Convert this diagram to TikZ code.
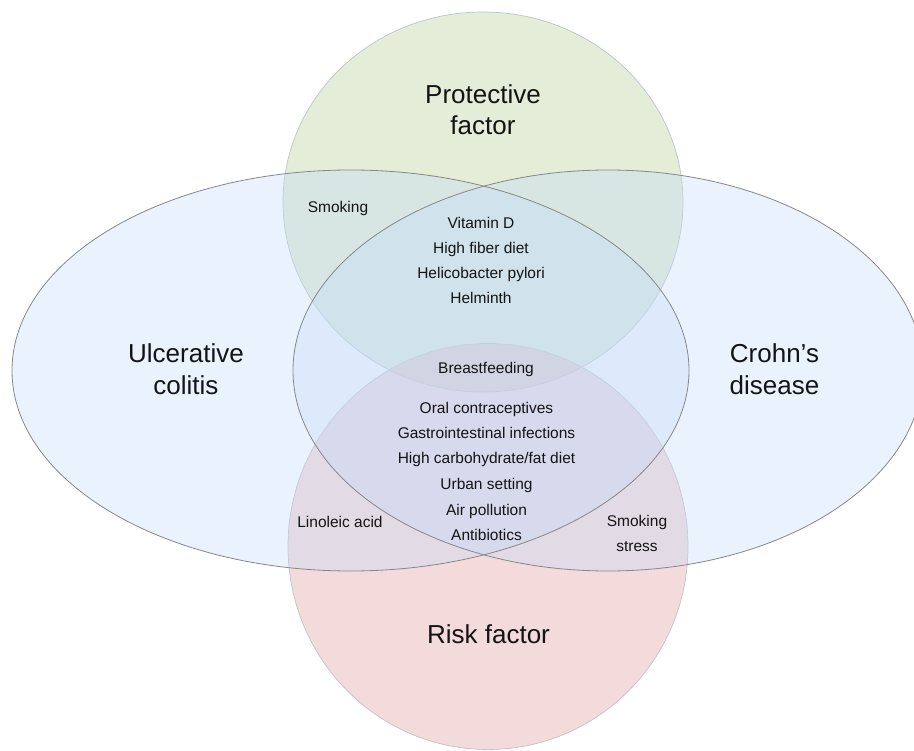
\documentclass[tikz,border=0pt]{standalone}
\usepackage{fontspec}
\setmainfont{Liberation Sans}
\definecolor{ellblue}{RGB}{195,218,249}
\definecolor{protgreen}{RGB}{199,219,178}
\definecolor{riskred}{RGB}{231,181,184}
\definecolor{ellline}{RGB}{135,135,135}
\definecolor{circline}{RGB}{190,195,200}
\definecolor{txt}{RGB}{20,20,20}
\tikzset{
  ellfill/.style={fill=ellblue, fill opacity=0.35},
  ellout/.style={draw=ellline, line width=0.8pt},
  circout/.style={draw=circline, line width=0.7pt},
  small/.style={anchor=base, inner sep=0pt, text=txt, font=\fontsize{15.5}{18}\selectfont},
  big/.style={anchor=base, inner sep=0pt, text=txt, font=\fontsize{26}{30}\selectfont}
}
\begin{document}
\begin{tikzpicture}[x=1pt,y=-1pt]
\useasboundingbox (0,0) rectangle (914,751);
% circles (factors)
\fill[protgreen, fill opacity=0.5] (483,202) ellipse [x radius=200, y radius=190];
\fill[riskred, fill opacity=0.5] (488,546.5) ellipse [x radius=200, y radius=203];
\draw[circout] (483,202) ellipse [x radius=200, y radius=190];
\draw[circout] (488,546.5) ellipse [x radius=200, y radius=203];
% ellipses (diseases)
\fill[ellfill] (350.5,370.5) ellipse [x radius=338.5, y radius=200.5];
\fill[ellfill] (608,370.5) ellipse [x radius=315, y radius=200.5];
\draw[ellout] (350.5,370.5) ellipse [x radius=338.5, y radius=200.5];
\draw[ellout] (608,370.5) ellipse [x radius=315, y radius=200.5];
% big labels
\node[big] (prot1) at (483,104) {Protective};
\node[big] (prot2) at (483,135) {factor};
\node[big] (uc1) at (186,363) {Ulcerative};
\node[big] (uc2) at (186,395) {colitis};
\node[big] (cd1) at (774.5,363) {Crohn’s};
\node[big] (cd2) at (774.5,395) {disease};
\node[big] (risk) at (488.5,643) {Risk factor};
% small labels
\node[small] (smk1) at (338,212.5) {Smoking};
\node[small] (p1) at (481,229) {Vitamin D};
\node[small] (p2) at (481,254) {High fiber diet};
\node[small] (p3) at (481,279) {Helicobacter pylori};
\node[small] (p4) at (481,304) {Helminth};
\node[small] (bf) at (486,374) {Breastfeeding};
\node[small] (r1) at (486.5,414) {Oral contraceptives};
\node[small] (r2) at (486.5,439) {Gastrointestinal infections};
\node[small] (r3) at (486.5,464) {High carbohydrate/fat diet};
\node[small] (r4) at (486.5,489.5) {Urban setting};
\node[small] (r5) at (486.5,515) {Air pollution};
\node[small] (r6) at (486.5,540) {Antibiotics};
\node[small] (lin) at (340,527) {Linoleic acid};
\node[small] (smk2) at (637,526) {Smoking};
\node[small] (str) at (637,551) {stress};
\end{tikzpicture}
\end{document}
